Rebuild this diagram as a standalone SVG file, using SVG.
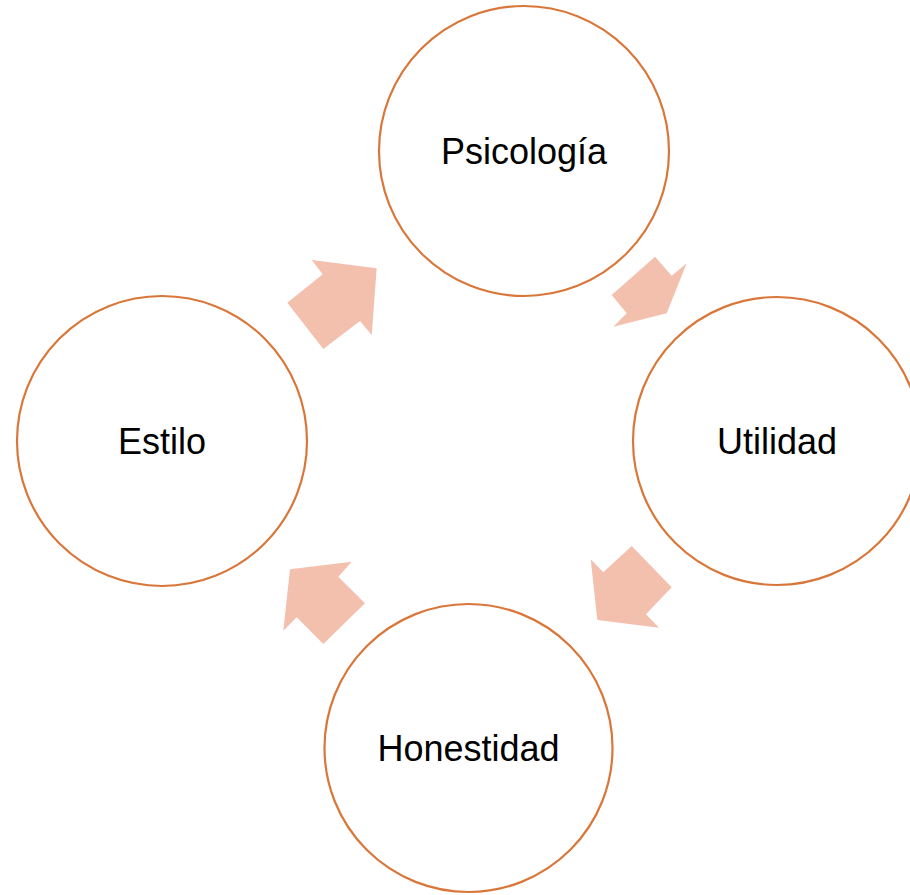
<svg xmlns="http://www.w3.org/2000/svg" width="910" height="895" viewBox="0 0 910 895">
<style>
.node circle{fill:#ffffff;stroke:#D9773A;stroke-width:2.2}
.node text{font-family:"Liberation Sans",Arial,sans-serif;font-size:36px;fill:#000000;text-anchor:middle}
.arrow{fill:#F4C0AE;stroke:none}
</style>
<rect width="910" height="895" fill="#ffffff"/>
<g id="connectors">
<polygon class="arrow" points="311.7,260 376.7,268.3 371.7,335 360,321 323.3,349 287.3,302.7 322.7,274.3"/>
<polygon class="arrow" points="655,256.7 671.7,275.7 686.7,263.3 666.7,313.3 613.3,326.7 626.7,313.3 611.7,295"/>
<polygon class="arrow" points="631.7,546 671.7,587.3 646,614.3 659,627.7 597.3,620 590.7,559.3 603.3,572.3"/>
<polygon class="arrow" points="351.7,561.7 290,569.3 283.3,630.7 296.7,617.3 323.3,644 365,603.3 338.3,576.7"/>
</g>
<g id="psicologia" class="node">
<circle cx="524" cy="151" r="145"/>
<text x="524" y="164">Psicología</text>
</g>
<g id="utilidad" class="node">
<circle cx="777" cy="441" r="144"/>
<text x="777" y="454">Utilidad</text>
</g>
<g id="estilo" class="node">
<circle cx="162" cy="441" r="145"/>
<text x="162" y="454">Estilo</text>
</g>
<g id="honestidad" class="node">
<circle cx="468.5" cy="748" r="144"/>
<text x="468.5" y="761">Honestidad</text>
</g>
</svg>
